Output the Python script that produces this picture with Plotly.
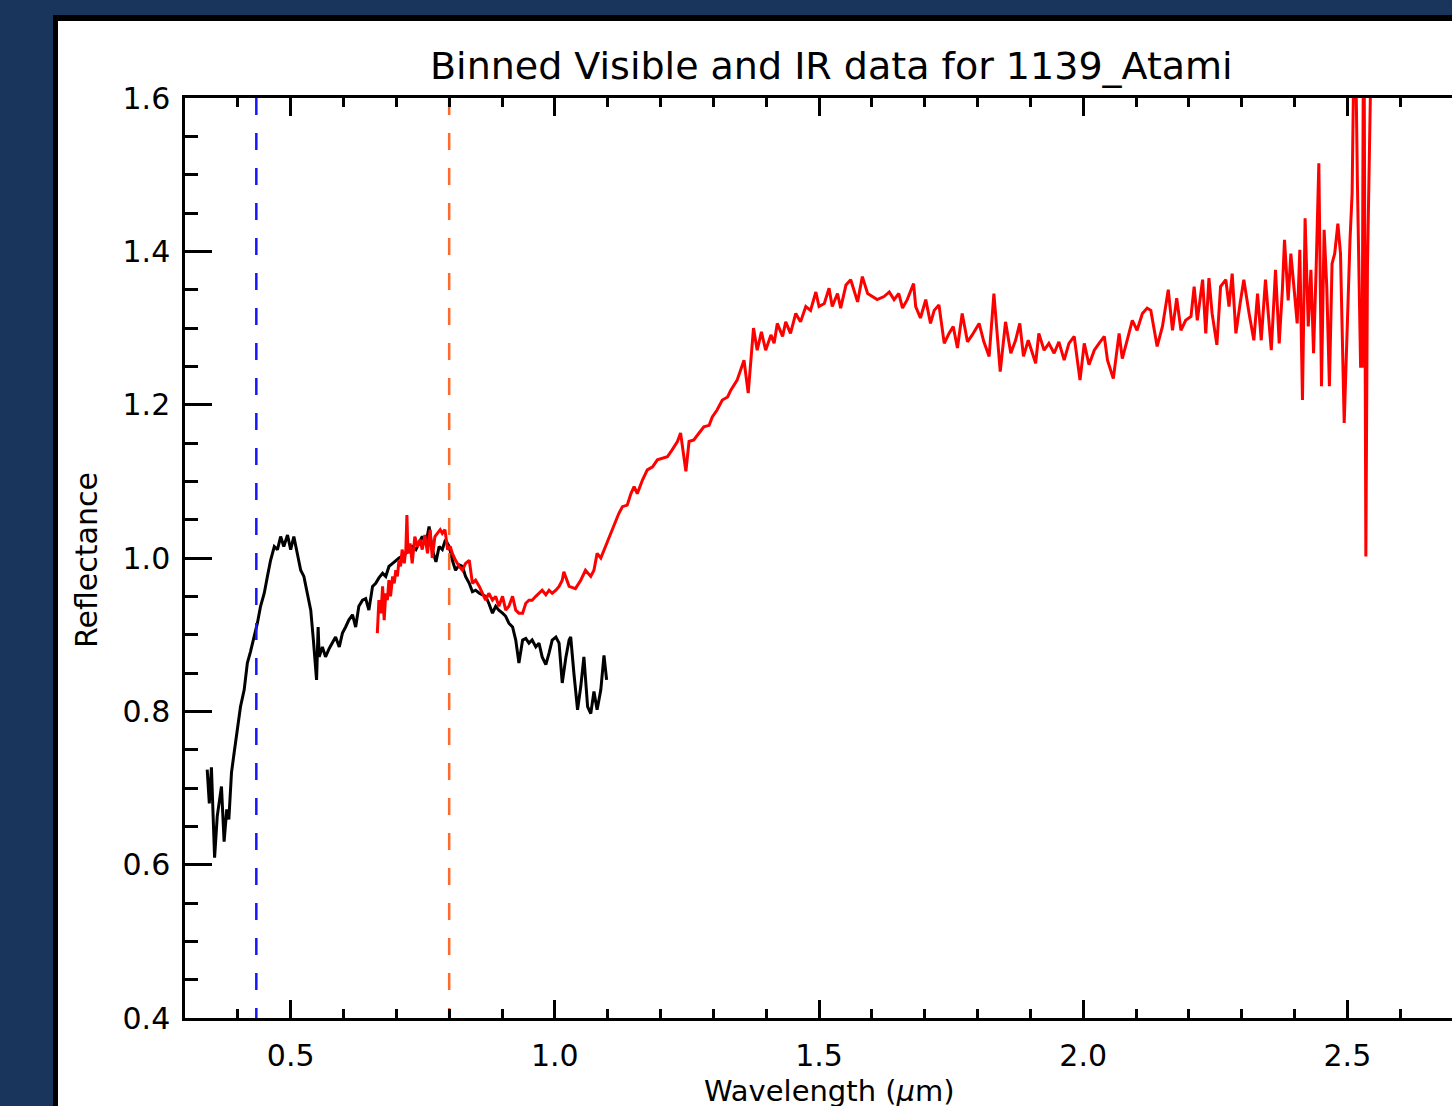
import plotly.graph_objects as go

# ---- data ----
vis_wavelength = [0.342,0.346,0.350,0.356,0.361,0.369,0.374,0.379,0.383,0.388,0.393,0.399,0.405,0.412,0.418,0.424,0.431,0.437,0.443,0.450,
                  0.456,0.462,0.469,0.475,0.481,0.487,0.494,0.500,0.506,0.513,0.519,0.525,0.532,0.538,0.543,0.546,0.549,0.552,0.554,0.560,
                  0.566,0.573,0.579,0.585,0.592,0.598,0.604,0.610,0.617,0.623,0.629,0.636,0.642,0.648,0.655,0.661,0.667,0.674,0.680,0.686,
                  0.693,0.699,0.705,0.711,0.718,0.724,0.730,0.737,0.743,0.749,0.756,0.762,0.768,0.775,0.781,0.787,0.793,0.800,0.806,0.812,
                  0.819,0.825,0.831,0.838,0.844,0.850,0.857,0.863,0.869,0.875,0.882,0.888,0.894,0.901,0.907,0.913,0.920,0.926,0.932,0.939,
                  0.945,0.951,0.957,0.964,0.970,0.976,0.983,0.989,0.995,1.002,1.008,1.014,1.021,1.027,1.030,1.036,1.043,1.049,1.055,1.062,
                  1.068,1.074,1.080,1.087,1.093,1.098]
vis_reflectance = [0.724,0.680,0.727,0.609,0.663,0.702,0.630,0.672,0.659,0.720,0.746,0.780,0.806,0.828,0.863,0.878,0.897,0.915,0.937,0.954,
                   0.976,0.997,1.015,1.011,1.028,1.015,1.030,1.011,1.028,1.006,0.984,0.976,0.954,0.932,0.893,0.863,0.841,0.910,0.871,0.884,
                   0.871,0.882,0.889,0.897,0.884,0.902,0.910,0.919,0.926,0.910,0.937,0.945,0.947,0.932,0.963,0.967,0.974,0.980,0.976,0.989,
                   0.993,0.997,1.000,1.002,1.006,1.011,1.015,1.011,1.019,1.028,1.019,1.041,1.011,0.995,1.015,1.011,1.024,1.015,0.997,0.984,
                   0.991,0.989,0.976,0.967,0.956,0.958,0.954,0.952,0.950,0.941,0.928,0.937,0.932,0.928,0.924,0.915,0.910,0.893,0.863,0.893,
                   0.895,0.889,0.893,0.884,0.889,0.871,0.861,0.876,0.893,0.897,0.889,0.837,0.871,0.893,0.897,0.850,0.802,0.832,0.871,0.806,
                   0.797,0.826,0.802,0.828,0.873,0.841]

ir_wavelength = [0.664,0.667,0.671,0.674,0.677,0.680,0.683,0.686,0.689,0.693,0.696,0.699,0.702,0.705,0.708,0.711,0.715,0.718,0.720,0.722,
                 0.726,0.730,0.735,0.740,0.745,0.749,0.754,0.759,0.764,0.768,0.773,0.778,0.783,0.787,0.792,0.797,0.802,0.806,0.812,0.819,
                 0.825,0.831,0.838,0.844,0.850,0.857,0.863,0.869,0.875,0.882,0.888,0.894,0.901,0.907,0.913,0.920,0.926,0.932,0.939,0.945,
                 0.951,0.957,0.964,0.970,0.976,0.983,0.989,0.995,1.002,1.008,1.014,
                 1.017,1.027,1.039,1.049,1.058,1.068,1.074,1.080,1.087,1.093,1.103,1.112,1.121,1.128,1.137,1.144,1.150,1.156,1.166,1.175,
                 1.185,1.194,1.204,1.213,1.222,1.232,1.238,1.243,1.248,1.254,1.263,1.273,1.282,1.292,1.298,1.307,1.317,1.327,
                 1.333,1.345,1.358,1.366,1.376,1.383,1.391,1.399,1.409,1.415,1.421,1.431,1.437,1.446,1.456,1.465,1.475,1.484,1.494,1.500,
                 1.510,1.519,1.525,1.535,1.541,1.551,1.560,1.573,1.582,1.592,1.601,1.610,1.623,1.633,1.642,1.651,1.658,1.667,1.679,1.683,
                 1.692,1.702,1.711,1.718,1.727,1.737,1.746,1.754,1.762,1.771,1.781,1.790,1.803,1.812,1.822,1.831,1.843,1.853,1.863,1.872,
                 1.880,1.887,1.896,1.910,1.916,1.926,1.935,1.945,1.954,1.964,1.973,1.983,1.994,2.002,2.011,2.021,2.030,2.040,2.046,2.057,
                 2.068,2.074,2.084,2.093,2.102,2.112,2.121,
                 2.128,2.140,2.150,2.161,2.169,2.177,2.185,2.194,2.204,2.210,2.216,2.226,2.232,2.238,2.244,2.253,2.260,2.270,2.276,2.282,
                 2.289,2.297,2.304,2.314,2.323,2.330,2.337,2.345,2.356,2.364,2.371,2.377,2.381,2.388,2.393,2.400,2.405,2.410,2.415,2.420,
                 2.426,2.431,2.436,2.441,2.446,2.451,2.456,2.461,2.466,2.471,2.476,2.482,2.487,2.494,2.500,2.505,2.509,2.514,2.519,2.525,
                 2.528,2.531,2.535,2.538,2.546]
ir_reflectance = [0.902,0.945,0.928,0.963,0.919,0.954,0.945,0.971,0.950,0.976,0.967,0.984,0.976,0.997,0.989,1.011,0.993,1.011,1.056,1.006,
                  1.019,0.993,1.028,1.015,1.024,1.011,1.030,1.006,1.037,1.000,1.028,1.032,1.037,1.032,1.037,1.011,1.015,1.006,0.997,0.989,
                  0.984,0.993,0.997,0.967,0.971,0.963,0.954,0.945,0.954,0.945,0.950,0.937,0.950,0.932,0.937,0.950,0.932,0.928,0.928,0.941,
                  0.945,0.945,0.950,0.954,0.958,0.952,0.958,0.954,0.958,0.963,0.971,
                  0.982,0.963,0.960,0.971,0.984,0.976,0.984,1.006,1.000,1.010,1.028,1.041,1.058,1.067,1.069,1.084,1.093,1.084,1.102,1.115,
                  1.119,1.128,1.130,1.132,1.141,1.152,1.163,1.141,1.113,1.152,1.154,1.163,1.171,1.173,1.184,1.193,1.206,1.210,
                  1.219,1.232,1.258,1.215,1.300,1.271,1.295,1.271,1.291,1.280,1.306,1.289,1.308,1.293,1.319,1.308,1.328,1.323,1.347,1.328,
                  1.332,1.352,1.328,1.345,1.326,1.356,1.363,1.334,1.367,1.345,1.341,1.337,1.341,1.347,1.337,1.345,1.326,1.337,1.358,1.328,
                  1.313,1.337,1.306,1.323,1.330,1.280,1.293,1.302,1.274,1.319,1.282,1.291,1.306,1.282,1.263,1.345,1.243,1.308,1.267,1.284,
                  1.306,1.263,1.284,1.254,1.293,1.271,1.280,1.267,1.282,1.258,1.280,1.289,1.232,1.280,1.252,1.271,1.280,1.289,1.258,1.234,
                  1.293,1.260,1.286,1.310,1.297,1.319,1.326,
                  1.323,1.276,1.302,1.350,1.297,1.339,1.297,1.310,1.315,1.354,1.310,1.363,1.293,1.365,1.319,1.278,1.354,1.363,1.328,1.371,
                  1.293,1.332,1.363,1.319,1.284,1.345,1.284,1.363,1.271,1.376,1.280,1.350,1.415,1.336,1.397,1.345,1.306,1.402,1.206,1.443,
                  1.302,1.376,1.267,1.380,1.515,1.224,1.428,1.354,1.224,1.384,1.397,1.436,1.397,1.176,1.319,1.415,1.476,1.750,1.489,1.250,
                  1.250,1.800,1.002,1.380,1.700]

marker_wavelengths = [0.435, 0.80]
marker_colors = ["#1515ff", "#ff6a2a"]
y_span = [1.6, 0.4]

title_text = "Binned Visible and IR data for 1139_Atami"
x_title = "Wavelength (<i>μ</i>m)"
y_title = "Reflectance"

# ---- figure ----
W, H = 1452, 1106
L, R, T, B = 185, 0, 98, 88
pw, ph = W - L - R, H - T - B

def px(xp):
    return (xp - L) / pw

def py(yp):
    return (H - B - yp) / ph

FONT = "DejaVu Sans"
NAVY = "#19355c"

fig = go.Figure()
for wl, col in zip(marker_wavelengths, marker_colors):
    fig.add_trace(go.Scatter(x=[wl, wl], y=y_span, mode="lines", xaxis="x2",
                             line=dict(color=col, width=2.5, dash="17px,18px"),
                             hoverinfo="skip", showlegend=False))
fig.add_trace(go.Scatter(x=vis_wavelength, y=vis_reflectance, mode="lines",
                         line=dict(color="black", width=3), showlegend=False))
fig.add_trace(go.Scatter(x=ir_wavelength, y=ir_reflectance, mode="lines",
                         line=dict(color="#ff0000", width=3), showlegend=False))

xr = [0.3, 0.3 + pw / 528.35]
axis_common = dict(showgrid=False, zeroline=False, showline=True, linecolor="black",
                   linewidth=2.5, ticks="inside", tickcolor="black", tickwidth=2.5)

fig.update_layout(
    width=W, height=H, autosize=False,
    margin=dict(l=L, r=R, t=T, b=B, pad=0),
    paper_bgcolor=NAVY, plot_bgcolor="rgba(0,0,0,0)",
    font=dict(family=FONT, color="black", size=30),
    xaxis=dict(range=xr, dtick=0.5, tick0=0, ticklen=18, tickformat=".1f",
               tickfont=dict(size=30, family=FONT), ticklabelstandoff=9,
               minor=dict(dtick=0.1, tick0=0, ticks="inside", ticklen=9, tickwidth=2.5, tickcolor="black"),
               **axis_common),
    xaxis2=dict(range=xr, dtick=0.5, tick0=0, ticklen=18, overlaying="x", side="top", anchor="y",
                showticklabels=False,
                minor=dict(dtick=0.1, tick0=0, ticks="inside", ticklen=9, tickwidth=2.5, tickcolor="black"),
                **axis_common),
    yaxis=dict(range=[0.4, 1.6], dtick=0.2, tick0=0, ticklen=27, tickformat=".1f",
               tickfont=dict(size=30, family=FONT), ticklabelstandoff=6,
               minor=dict(dtick=0.05, tick0=0, ticks="inside", ticklen=13, tickwidth=2.5, tickcolor="black"),
               **axis_common),
    shapes=[
        dict(type="rect", xref="paper", yref="paper", x0=px(53), x1=px(1500), y0=py(15), y1=py(1200),
             fillcolor="black", line=dict(width=0), layer="below"),
        dict(type="rect", xref="paper", yref="paper", x0=px(58), x1=px(1500), y0=py(21), y1=py(1200),
             fillcolor="white", line=dict(width=0), layer="below"),
    ],
    annotations=[
        dict(text=title_text, xref="paper", yref="paper", x=px(831), y=py(66),
             xanchor="center", yanchor="middle", showarrow=False, font=dict(size=38, family=FONT)),
        dict(text=x_title, xref="paper", yref="paper", x=px(830), y=py(1091),
             xanchor="center", yanchor="middle", showarrow=False, font=dict(size=29, family=FONT)),
        dict(text=y_title, xref="paper", yref="paper", x=px(86), y=py(560), textangle=-90,
             xanchor="center", yanchor="middle", showarrow=False, font=dict(size=30, family=FONT)),
    ],
)

fig.write_html("out.html", config={"displayModeBar": False},
               post_script="document.body.style.margin='0';document.body.style.overflow='hidden';document.body.style.background='%s';" % NAVY)
